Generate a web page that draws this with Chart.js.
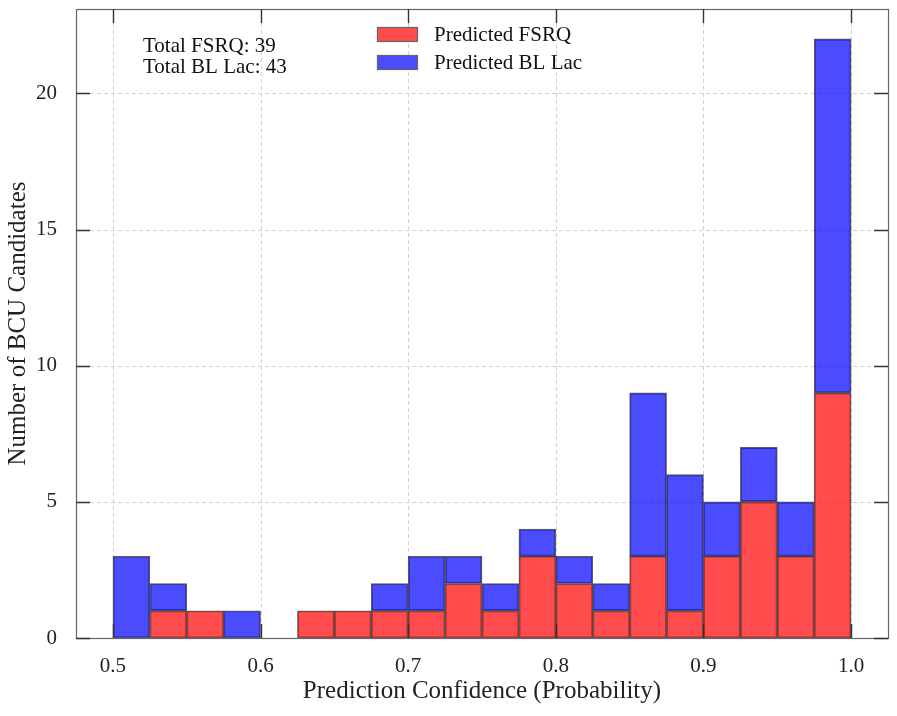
<!DOCTYPE html>
<html><head><meta charset="utf-8">
<script src="https://cdn.jsdelivr.net/npm/chart.js@4.4.0/dist/chart.umd.min.js"></script>
<style>html,body{margin:0;padding:0;background:#fff}#wrap{width:897px;height:716px;position:relative}</style>
</head><body><div id="wrap"><canvas id="c"></canvas></div>
<script>
// ---- data ----
const binCenters = [0.5125,0.5375,0.5625,0.5875,0.6125,0.6375,0.6625,0.6875,0.7125,0.7375,0.7625,0.7875,0.8125,0.8375,0.8625,0.8875,0.9125,0.9375,0.9625,0.9875];
const fsrqCounts  = [0,1,1,0,0,1,1,1,1,2,1,3,2,1,3,1,3,5,3,9];
const blLacCounts = [3,1,0,1,0,0,0,1,2,1,1,1,1,1,6,5,2,2,2,13];
const xTicks = [0.5,0.6,0.7,0.8,0.9,1.0];
const yTicks = [0,5,10,15,20];
const seriesLabels = ['Predicted FSRQ','Predicted BL Lac'];
const xTitle = 'Prediction Confidence (Probability)';
const yTitle = 'Number of BCU Candidates';
const xRange = [0.475, 1.025];
const yRange = [0, 23.1];

const FONT = "'Liberation Serif', 'DejaVu Serif', serif";
const RED = 'rgba(255,0,0,0.7)';
const BLUE = 'rgba(0,0,255,0.7)';
const EDGE = 'rgba(30,30,30,0.72)';
const sum = a => a.reduce((s,v)=>s+v,0);
const summaryLines = ['Total FSRQ: ' + sum(fsrqCounts), 'Total BL Lac: ' + sum(blLacCounts)];

const decor = {
  id: 'decor',
  beforeDatasetsDraw(chart){
    const {ctx, chartArea:a, scales:{x,y}} = chart;
    ctx.save();
    ctx.strokeStyle = '#cccccc'; ctx.lineWidth = 0.9; ctx.setLineDash([4,3]);
    xTicks.forEach(v=>{const p=Math.round(x.getPixelForValue(v))+0.5;ctx.beginPath();ctx.moveTo(p,a.top);ctx.lineTo(p,a.bottom);ctx.stroke();});
    yTicks.forEach(v=>{const p=Math.round(y.getPixelForValue(v))+0.5;ctx.beginPath();ctx.moveTo(a.left,p);ctx.lineTo(a.right,p);ctx.stroke();});
    ctx.restore();
  },
  afterDraw(chart){
    const {ctx, chartArea:a, scales:{x,y}} = chart;
    ctx.save();
    // frame
    ctx.strokeStyle = '#666'; ctx.lineWidth = 1.2;
    ctx.strokeRect(Math.round(a.left)+0.5, Math.round(a.top)+0.5, Math.round(a.right-a.left), Math.round(a.bottom-a.top));
    // inward ticks on all sides
    const TL = 14;
    ctx.strokeStyle = '#333'; ctx.lineWidth = 1.4;
    xTicks.forEach(v=>{const p=Math.round(x.getPixelForValue(v))+0.5;
      ctx.beginPath();ctx.moveTo(p,a.bottom);ctx.lineTo(p,a.bottom-TL);ctx.moveTo(p,a.top);ctx.lineTo(p,a.top+TL);ctx.stroke();});
    yTicks.forEach(v=>{const p=Math.round(y.getPixelForValue(v))+0.5;
      ctx.beginPath();ctx.moveTo(a.left,p);ctx.lineTo(a.left+TL,p);ctx.moveTo(a.right,p);ctx.lineTo(a.right-TL,p);ctx.stroke();});
    // summary text
    ctx.fillStyle = '#111'; ctx.font = '21px ' + FONT; ctx.textBaseline = 'alphabetic'; ctx.textAlign = 'left';
    ctx.fillText(summaryLines[0], 143, 52);
    ctx.fillText(summaryLines[1], 143, 73);
    // legend
    const ds = chart.data.datasets;
    const rows = [34, 62];
    ds.forEach((d,i)=>{
      const cy = rows[i];
      ctx.fillStyle = '#fff'; ctx.fillRect(377, cy-7, 40, 14);
      ctx.fillStyle = d.backgroundColor; ctx.fillRect(377, cy-7, 40, 14);
      ctx.strokeStyle = '#666'; ctx.lineWidth = 1.2; ctx.strokeRect(377.5, cy-6.5, 40, 14);
      ctx.fillStyle = '#111'; ctx.font = '21px ' + FONT;
      ctx.fillText(d.label, 434, cy+7);
    });
    ctx.restore();
  }
};

new Chart(document.getElementById('c'), {
  type: 'bar',
  data: {
    datasets: [
      {label: seriesLabels[0], data: binCenters.map((c,i)=>({x:c, y:fsrqCounts[i]})), backgroundColor: RED, borderColor: EDGE, borderWidth: 1.2, borderSkipped: false},
      {label: seriesLabels[1], data: binCenters.map((c,i)=>({x:c, y:blLacCounts[i]})), backgroundColor: BLUE, borderColor: EDGE, borderWidth: 1.2, borderSkipped: false}
    ]
  },
  options: {
    responsive: true, maintainAspectRatio: false, animation: false,
    barPercentage: 1, categoryPercentage: 1,
    layout: {padding: {top: 9, right: 9, left: 0, bottom: 0}},
    plugins: {legend: {display: false}, tooltip: {enabled: false}},
    scales: {
      x: {
        type: 'linear', stacked: true, min: xRange[0], max: xRange[1], offset: false,
        afterBuildTicks: s => { s.ticks = xTicks.map(v=>({value:v})); },
        afterFit: s => { s.height = 78; s.paddingLeft = 0; s.paddingRight = 0; },
        grid: {display: false, drawTicks: false},
        border: {display: false},
        ticks: {padding: 16, color: '#222', font: {family: FONT, size: 21}, maxRotation: 0, callback: v => Number(v).toFixed(1)},
        title: {display: true, text: xTitle, color: '#222', font: {family: FONT, size: 25}, padding: {top: 0, bottom: 10}}
      },
      y: {
        type: 'linear', stacked: true, min: yRange[0], max: yRange[1],
        afterBuildTicks: s => { s.ticks = yTicks.map(v=>({value:v})); },
        afterFit: s => { s.width = 76; s.paddingTop = 0; s.paddingBottom = 0; },
        grid: {display: false, drawTicks: false},
        border: {display: false},
        ticks: {padding: 19, color: '#222', font: {family: FONT, size: 21}, callback: v => String(v)},
        title: {display: true, text: yTitle, color: '#222', font: {family: FONT, size: 25}, padding: {top: 3, bottom: 0}}
      }
    }
  },
  plugins: [decor]
});
</script></body></html>
